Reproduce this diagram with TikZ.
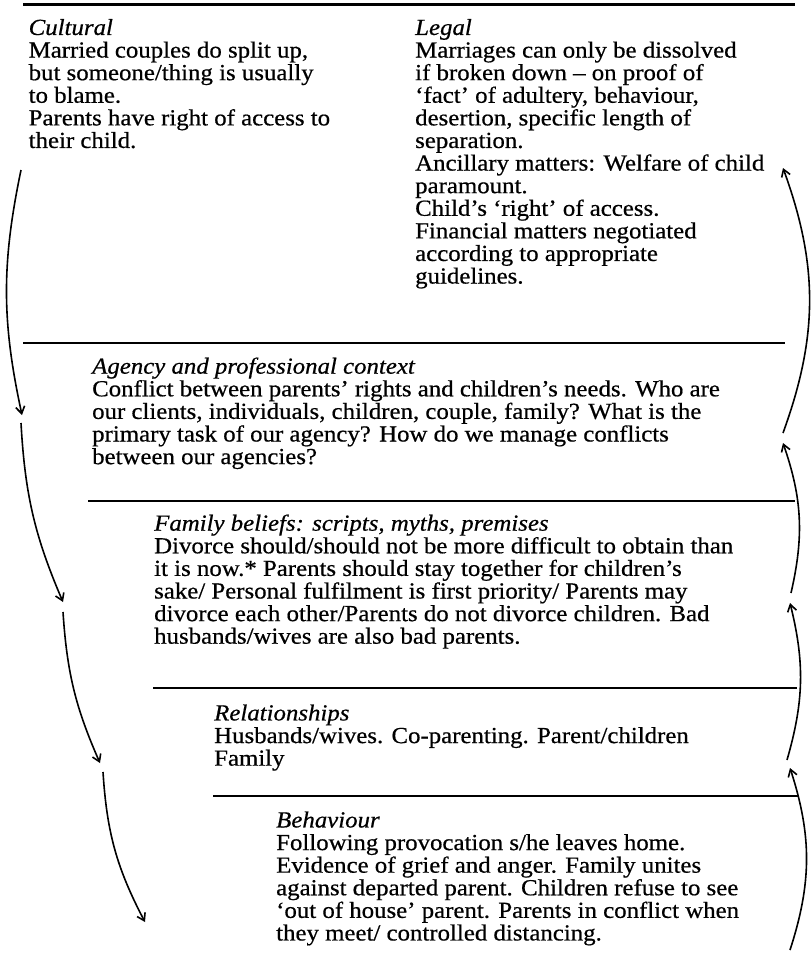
\documentclass[tikz,border=0pt]{standalone}
\usepackage{fontspec}
\setmainfont[FakeStretch=1.08,FakeBold=0.6]{Liberation Serif}
\usetikzlibrary{arrows.meta}
\tikzset{
  level/.style={anchor=north west, align=left, inner sep=0pt,
    font=\fontsize{23}{22.6}\selectfont},
  rule/.style={line width=2.4pt},
  flow/.style={line width=1.6pt, -{Straight Barb[length=7pt,width=9pt]}}
}
\begin{document}
\begin{tikzpicture}[x=1pt,y=-1pt]
\useasboundingbox (0,0) rectangle (811,980);
% rules between the levels
\coordinate (r0a) at (23,4);   \coordinate (r0b) at (795,4);
\coordinate (r1a) at (23,343); \coordinate (r1b) at (785,343);
\coordinate (r2a) at (88,501); \coordinate (r2b) at (795,501);
\coordinate (r3a) at (153,688);\coordinate (r3b) at (797,688);
\coordinate (r4a) at (213,796);\coordinate (r4b) at (799,796);
\draw[rule, line width=3pt] (r0a)--(r0b);
\draw[rule] (r1a)--(r1b);
\draw[rule] (r2a)--(r2b);
\draw[rule] (r3a)--(r3b);
\draw[rule] (r4a)--(r4b);
% texts
\node[level] (cultural) at (28.5,18.8) {\textit{Cultural}\\
Married couples do split up,\\
but someone/thing is usually\\
to blame.\\
Parents have right of access to\\
their child.};
\node[level] (legal) at (415,18.8) {\textit{Legal}\\
Marriages can only be dissolved\\
if broken down -- on proof of\\
‘fact’ of adultery, behaviour,\\
desertion, specific length of\\
separation.\\
Ancillary matters: Welfare of child\\
paramount.\\
Child’s ‘right’ of access.\\
Financial matters negotiated\\
according to appropriate\\
guidelines.};
\node[level] (agency) at (92,357.3) {\textit{Agency and professional context}\\
Conflict between parents’ rights and children’s needs. Who are\\
our clients, individuals, children, couple, family? What is the\\
primary task of our agency? How do we manage conflicts\\
between our agencies?};
\node[level] (beliefs) at (154,514.3) {\textit{Family beliefs: scripts, myths, premises}\\
Divorce should/should not be more difficult to obtain than\\
it is now.* Parents should stay together for children’s\\
sake/ Personal fulfilment is first priority/ Parents may\\
divorce each other/Parents do not divorce children. Bad\\
husbands/wives are also bad parents.};
\node[level] (relations) at (214,704.3) {\textit{Relationships}\\
Husbands/wives. Co-parenting. Parent/children\\
Family};
\node[level] (behaviour) at (276,811.3) {\textit{Behaviour}\\
Following provocation s/he leaves home.\\
Evidence of grief and anger. Family unites\\
against departed parent. Children refuse to see\\
‘out of house’ parent. Parents in conflict when\\
they meet/ controlled distancing.};
% arrows down the left side
\coordinate (d0) at (21,170);
\coordinate (d1) at (22,415);  \coordinate (d1s) at (21,423);
\coordinate (d2) at (63,602);  \coordinate (d2s) at (63,612);
\coordinate (d3) at (100,763); \coordinate (d3s) at (103,772);
\coordinate (d4) at (145,922);
\draw[flow] (d0) to[bend right=12] (d1);
\draw[flow] (d1s) to[bend right=10] (d2);
\draw[flow] (d2s) to[bend right=10] (d3);
\draw[flow] (d3s) to[bend right=12] (d4);
% arrows up the right side
\coordinate (u0) at (790,950);
\coordinate (u1) at (790,768); \coordinate (u1s) at (787,760);
\coordinate (u2) at (790,603); \coordinate (u2s) at (791,593);
\coordinate (u3) at (783,443); \coordinate (u3s) at (783,433);
\coordinate (u4) at (783,168);
\draw[flow] (u0) to[bend right=18] (u1);
\draw[flow] (u1s) to[bend right=15] (u2);
\draw[flow] (u2s) to[bend right=16] (u3);
\draw[flow] (u3s) to[bend right=20] (u4);
\end{tikzpicture}
\end{document}
